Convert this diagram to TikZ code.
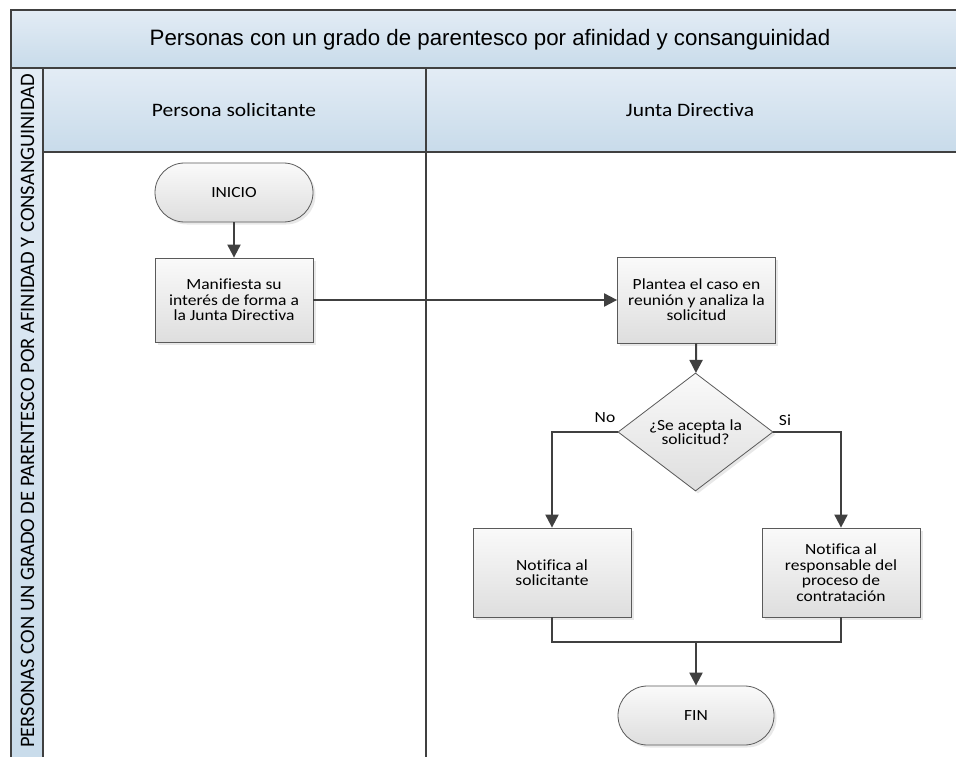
\documentclass[tikz,border=0pt]{standalone}
\usepackage{fontspec}
\setmainfont{Carlito}[Ligatures=NoCommon]
\newfontfamily\titlefont{Liberation Sans}
\newfontfamily\boxfont{Carlito}[FakeStretch=1.13,Ligatures=NoCommon]
\usetikzlibrary{arrows.meta,shadows,shapes.geometric}
\definecolor{hdtop}{HTML}{E3ECF5}
\definecolor{hdbot}{HTML}{C8DBEA}
\definecolor{ln}{HTML}{404040}
\definecolor{bx}{HTML}{5A5A5A}
\begin{document}
\begin{tikzpicture}[x=1pt,y=-1pt,
 hdr/.style={draw=ln, line width=1.3pt, top color=hdtop, bottom color=hdbot},
 lane/.style={draw=ln, line width=1.3pt, fill=white},
 proc/.style={draw=bx, line width=0.8pt, top color=white!98!black, bottom color=white!87!black,
   drop shadow={shadow xshift=2.5pt,shadow yshift=-2.5pt,opacity=0.18},
   minimum width=158pt, align=center, inner sep=2pt,
   font=\boxfont\fontsize{15.5}{15.5}\selectfont},
 term/.style={proc, rounded corners=29.5pt, minimum height=59pt},
 dec/.style={diamond, draw=bx, line width=0.8pt, top color=white!98!black, bottom color=white!87!black,
   drop shadow={shadow xshift=2.5pt,shadow yshift=-2.5pt,opacity=0.18},
   minimum width=155pt, minimum height=118pt, aspect=1.31, inner sep=0pt, align=center,
   font=\boxfont\fontsize{15.5}{14}\selectfont},
 arr/.style={draw=ln, line width=2pt, -{Triangle[length=13pt,width=13pt]}},
 conn/.style={draw=ln, line width=2pt},
 lbl/.style={font=\boxfont\fontsize{15.5}{15.5}\selectfont},
 hdtext/.style={font=\boxfont\fontsize{19}{19}\selectfont}]
\useasboundingbox (0,0) rectangle (956,757);
\clip (0,0) rectangle (956,757);
% pool and lanes
\path[hdr] (11,10) rectangle (990,68);
\node[font=\titlefont\fontsize{22.3}{22.3}\selectfont] (title) at (490,40) {Personas con un grado de parentesco por afinidad y consanguinidad};
\path[hdr] (11,68) rectangle (43,790);
\node[rotate=90, font=\fontsize{20.5}{20.5}\selectfont] (pooltext) at (27.5,411) {PERSONAS CON UN GRADO DE PARENTESCO POR AFINIDAD Y CONSANGUINIDAD};
\path[hdr] (43,68) rectangle (426,152);
\path[hdr] (426,68) rectangle (990,152);
\node[hdtext] (h1) at (234,110) {Persona solicitante};
\node[hdtext] (h2) at (690,110) {Junta Directiva};
\path[lane] (43,152) rectangle (426,790);
\path[lane] (426,152) rectangle (990,790);
\draw[draw=ln, line width=2.2pt] (426,68) -- (426,790);
% nodes
\node[term] (ini) at (234,192.5) {INICIO};
\node[proc, minimum height=84pt] (n1) at (234,300) {Manifiesta su\\interés de forma a\\la Junta Directiva};
\node[proc, minimum height=86pt] (n2) at (696.5,300) {Plantea el caso en\\reunión y analiza la\\solicitud};
\node[dec] (d) at (695.5,432) {¿Se acepta la\\solicitud?};
\node[proc, minimum height=89pt] (n3) at (552,572.5) {Notifica al\\solicitante};
\node[proc, minimum height=89pt] (n4) at (841,572.5) {Notifica al\\responsable del\\proceso de\\contratación};
\node[term, minimum width=156pt] (fin) at (696,715.5) {FIN};
\coordinate (m) at (696,642);
% connectors
\draw[arr] (ini) -- (n1);
\draw[arr] (n1) -- (n2);
\draw[arr] (n2) -- (d);
\draw[arr] (d.west) -| (n3.north);
\draw[arr] (d.east) -| (n4.north);
\draw[conn] (n3.south) |- (m);
\draw[conn] (n4.south) |- (m);
\draw[arr] (m) -- (fin);
\node[lbl] (no) at (605,418) {No};
\node[lbl] (si) at (785,420) {Si};
\end{tikzpicture}
\end{document}
